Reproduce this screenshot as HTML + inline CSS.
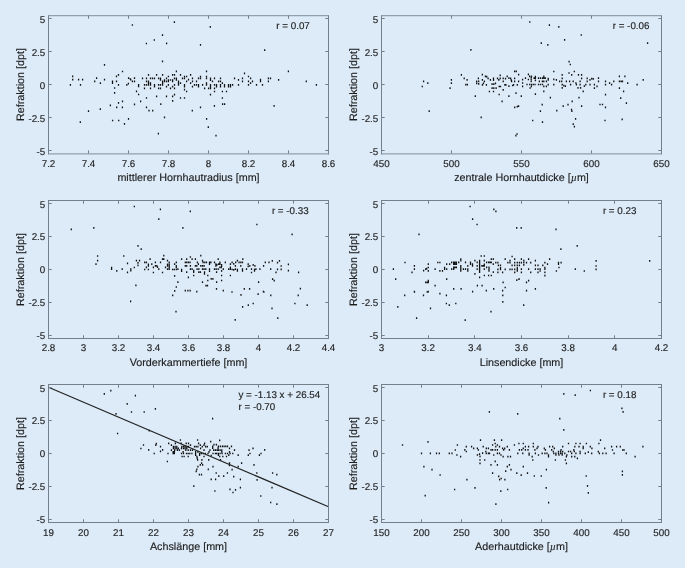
<!DOCTYPE html>
<html><head><meta charset="utf-8"><style>
html,body{margin:0;padding:0;background:#ddebf8;}
svg{display:block;}
text{font-family:"Liberation Sans",sans-serif;fill:#1e1e1e;}
svg{will-change:transform;}
text{text-rendering:geometricPrecision;stroke:#1e1e1e;stroke-width:0.15px;}
</style></head><body>
<svg width="685" height="568" viewBox="0 0 685 568">
<rect x="0" y="0" width="685" height="568" fill="#ddebf8"/>
<g><path d="M131.75 24.15h1.3v1.7h-1.3zM173.75 21.25h1.3v1.7h-1.3zM209.65 26.05h1.3v1.7h-1.3zM161.85 34.25h1.3v1.7h-1.3zM153.65 39.15h1.3v1.7h-1.3zM145.75 42.65h1.3v1.7h-1.3zM165.95 42.55h1.3v1.7h-1.3zM199.85 43.95h1.3v1.7h-1.3zM264.05 49.35h1.3v1.7h-1.3zM161.85 60.55h1.3v1.7h-1.3zM103.85 63.95h1.3v1.7h-1.3zM72.05 75.45h1.3v1.7h-1.3zM72.05 78.85h1.3v1.7h-1.3zM69.75 83.95h1.3v1.7h-1.3zM77.95 78.85h1.3v1.7h-1.3zM81.95 78.85h1.3v1.7h-1.3zM79.85 83.95h1.3v1.7h-1.3zM94.05 80.55h1.3v1.7h-1.3zM95.95 77.25h1.3v1.7h-1.3zM99.75 82.35h1.3v1.7h-1.3zM103.85 78.85h1.3v1.7h-1.3zM111.85 80.55h1.3v1.7h-1.3zM111.85 82.35h1.3v1.7h-1.3zM115.85 80.55h1.3v1.7h-1.3zM115.85 75.45h1.3v1.7h-1.3zM117.85 73.95h1.3v1.7h-1.3zM121.85 70.65h1.3v1.7h-1.3zM117.85 83.95h1.3v1.7h-1.3zM113.95 87.15h1.3v1.7h-1.3zM113.95 91.95h1.3v1.7h-1.3zM126.15 83.95h1.3v1.7h-1.3zM127.75 82.75h1.3v1.7h-1.3zM127.95 77.25h1.3v1.7h-1.3zM129.65 78.15h1.3v1.7h-1.3zM130.05 78.85h1.3v1.7h-1.3zM131.75 80.55h1.3v1.7h-1.3zM133.85 77.25h1.3v1.7h-1.3zM133.85 80.55h1.3v1.7h-1.3zM137.95 83.95h1.3v1.7h-1.3zM137.95 85.45h1.3v1.7h-1.3zM135.85 90.55h1.3v1.7h-1.3zM137.95 93.65h1.3v1.7h-1.3zM121.85 100.45h1.3v1.7h-1.3zM117.85 101.95h1.3v1.7h-1.3zM133.85 103.55h1.3v1.7h-1.3zM139.95 100.45h1.3v1.7h-1.3zM109.75 104.55h1.3v1.7h-1.3zM175.75 70.55h1.3v1.7h-1.3zM147.85 73.95h1.3v1.7h-1.3zM155.95 73.95h1.3v1.7h-1.3zM161.95 73.95h1.3v1.7h-1.3zM171.95 73.95h1.3v1.7h-1.3zM173.85 73.95h1.3v1.7h-1.3zM179.85 73.95h1.3v1.7h-1.3zM167.75 75.65h1.3v1.7h-1.3zM183.85 75.65h1.3v1.7h-1.3zM185.95 75.65h1.3v1.7h-1.3zM141.85 77.55h1.3v1.7h-1.3zM145.85 77.55h1.3v1.7h-1.3zM149.85 77.55h1.3v1.7h-1.3zM151.85 77.55h1.3v1.7h-1.3zM153.85 77.55h1.3v1.7h-1.3zM157.95 77.55h1.3v1.7h-1.3zM159.85 77.55h1.3v1.7h-1.3zM165.85 77.55h1.3v1.7h-1.3zM173.85 77.55h1.3v1.7h-1.3zM175.75 77.55h1.3v1.7h-1.3zM181.85 77.55h1.3v1.7h-1.3zM183.85 77.55h1.3v1.7h-1.3zM159.85 79.15h1.3v1.7h-1.3zM163.85 79.15h1.3v1.7h-1.3zM167.75 79.15h1.3v1.7h-1.3zM169.85 79.15h1.3v1.7h-1.3zM171.95 79.15h1.3v1.7h-1.3zM175.75 79.15h1.3v1.7h-1.3zM145.85 80.45h1.3v1.7h-1.3zM147.85 80.45h1.3v1.7h-1.3zM161.95 80.45h1.3v1.7h-1.3zM163.85 80.45h1.3v1.7h-1.3zM165.85 80.45h1.3v1.7h-1.3zM167.75 80.45h1.3v1.7h-1.3zM171.95 80.45h1.3v1.7h-1.3zM177.85 80.45h1.3v1.7h-1.3zM185.95 80.45h1.3v1.7h-1.3zM147.85 82.25h1.3v1.7h-1.3zM149.85 82.25h1.3v1.7h-1.3zM161.95 82.25h1.3v1.7h-1.3zM177.85 82.25h1.3v1.7h-1.3zM179.85 82.25h1.3v1.7h-1.3zM143.85 83.95h1.3v1.7h-1.3zM145.85 83.95h1.3v1.7h-1.3zM147.85 83.95h1.3v1.7h-1.3zM149.85 83.95h1.3v1.7h-1.3zM153.85 83.95h1.3v1.7h-1.3zM157.95 83.95h1.3v1.7h-1.3zM159.85 83.95h1.3v1.7h-1.3zM161.95 83.95h1.3v1.7h-1.3zM167.75 83.95h1.3v1.7h-1.3zM173.85 83.95h1.3v1.7h-1.3zM177.85 83.95h1.3v1.7h-1.3zM183.85 83.95h1.3v1.7h-1.3zM153.85 85.75h1.3v1.7h-1.3zM165.85 85.75h1.3v1.7h-1.3zM171.95 85.75h1.3v1.7h-1.3zM183.85 85.75h1.3v1.7h-1.3zM143.85 87.45h1.3v1.7h-1.3zM149.85 87.45h1.3v1.7h-1.3zM157.95 87.45h1.3v1.7h-1.3zM159.85 87.45h1.3v1.7h-1.3zM169.85 87.45h1.3v1.7h-1.3zM173.85 87.45h1.3v1.7h-1.3zM183.85 88.85h1.3v1.7h-1.3zM185.95 90.65h1.3v1.7h-1.3zM173.85 93.75h1.3v1.7h-1.3zM155.95 95.55h1.3v1.7h-1.3zM165.85 95.55h1.3v1.7h-1.3zM171.95 95.55h1.3v1.7h-1.3zM145.85 97.15h1.3v1.7h-1.3zM179.85 97.15h1.3v1.7h-1.3zM183.85 97.15h1.3v1.7h-1.3zM205.85 70.55h1.3v1.7h-1.3zM189.95 73.95h1.3v1.7h-1.3zM199.85 75.65h1.3v1.7h-1.3zM199.85 77.55h1.3v1.7h-1.3zM197.85 77.55h1.3v1.7h-1.3zM205.85 75.65h1.3v1.7h-1.3zM205.85 77.55h1.3v1.7h-1.3zM191.85 77.55h1.3v1.7h-1.3zM213.85 77.55h1.3v1.7h-1.3zM219.85 77.55h1.3v1.7h-1.3zM209.85 77.55h1.3v1.7h-1.3zM209.85 79.25h1.3v1.7h-1.3zM187.85 78.75h1.3v1.7h-1.3zM191.85 80.45h1.3v1.7h-1.3zM195.85 80.45h1.3v1.7h-1.3zM211.85 80.45h1.3v1.7h-1.3zM217.95 80.45h1.3v1.7h-1.3zM219.85 80.45h1.3v1.7h-1.3zM189.95 82.25h1.3v1.7h-1.3zM205.85 82.25h1.3v1.7h-1.3zM221.75 82.25h1.3v1.7h-1.3zM193.85 83.95h1.3v1.7h-1.3zM195.85 83.95h1.3v1.7h-1.3zM197.85 83.95h1.3v1.7h-1.3zM201.95 83.95h1.3v1.7h-1.3zM205.85 83.95h1.3v1.7h-1.3zM209.85 83.95h1.3v1.7h-1.3zM213.85 83.95h1.3v1.7h-1.3zM215.85 83.95h1.3v1.7h-1.3zM219.85 83.95h1.3v1.7h-1.3zM223.85 83.95h1.3v1.7h-1.3zM227.85 83.95h1.3v1.7h-1.3zM229.85 83.95h1.3v1.7h-1.3zM231.95 83.95h1.3v1.7h-1.3zM191.85 85.75h1.3v1.7h-1.3zM197.85 85.75h1.3v1.7h-1.3zM209.85 85.75h1.3v1.7h-1.3zM215.85 85.75h1.3v1.7h-1.3zM219.85 85.75h1.3v1.7h-1.3zM223.85 85.75h1.3v1.7h-1.3zM227.85 85.75h1.3v1.7h-1.3zM229.85 85.75h1.3v1.7h-1.3zM203.95 87.45h1.3v1.7h-1.3zM207.95 87.45h1.3v1.7h-1.3zM209.85 87.45h1.3v1.7h-1.3zM213.85 87.45h1.3v1.7h-1.3zM185.95 90.65h1.3v1.7h-1.3zM213.85 90.65h1.3v1.7h-1.3zM221.75 90.65h1.3v1.7h-1.3zM225.85 90.65h1.3v1.7h-1.3zM209.85 93.75h1.3v1.7h-1.3zM221.75 97.15h1.3v1.7h-1.3zM243.85 72.45h1.3v1.7h-1.3zM233.85 77.55h1.3v1.7h-1.3zM241.85 77.55h1.3v1.7h-1.3zM247.85 75.65h1.3v1.7h-1.3zM249.95 77.55h1.3v1.7h-1.3zM237.85 79.05h1.3v1.7h-1.3zM259.85 78.75h1.3v1.7h-1.3zM259.85 80.45h1.3v1.7h-1.3zM241.85 80.45h1.3v1.7h-1.3zM247.85 80.45h1.3v1.7h-1.3zM251.85 80.45h1.3v1.7h-1.3zM267.75 77.55h1.3v1.7h-1.3zM269.85 77.55h1.3v1.7h-1.3zM267.75 80.45h1.3v1.7h-1.3zM277.95 79.05h1.3v1.7h-1.3zM249.95 82.25h1.3v1.7h-1.3zM231.95 83.95h1.3v1.7h-1.3zM237.85 83.95h1.3v1.7h-1.3zM247.85 83.95h1.3v1.7h-1.3zM255.85 83.95h1.3v1.7h-1.3zM261.85 83.95h1.3v1.7h-1.3zM287.75 70.55h1.3v1.7h-1.3zM305.65 80.55h1.3v1.7h-1.3zM315.75 83.95h1.3v1.7h-1.3zM87.85 110.25h1.3v1.7h-1.3zM99.65 108.25h1.3v1.7h-1.3zM116.05 106.55h1.3v1.7h-1.3zM121.75 106.55h1.3v1.7h-1.3zM145.85 106.55h1.3v1.7h-1.3zM148.35 109.85h1.3v1.7h-1.3zM152.05 109.85h1.3v1.7h-1.3zM160.15 103.35h1.3v1.7h-1.3zM163.85 116.45h1.3v1.7h-1.3zM172.05 100.05h1.3v1.7h-1.3zM79.65 121.35h1.3v1.7h-1.3zM111.95 119.65h1.3v1.7h-1.3zM118.05 119.65h1.3v1.7h-1.3zM123.85 122.95h1.3v1.7h-1.3zM127.85 118.05h1.3v1.7h-1.3zM157.75 132.75h1.3v1.7h-1.3zM191.65 109.85h1.3v1.7h-1.3zM199.85 106.55h1.3v1.7h-1.3zM205.95 118.05h1.3v1.7h-1.3zM207.65 126.25h1.3v1.7h-1.3zM213.75 104.95h1.3v1.7h-1.3zM215.35 134.85h1.3v1.7h-1.3zM221.95 103.35h1.3v1.7h-1.3zM223.95 103.35h1.3v1.7h-1.3zM273.45 104.95h1.3v1.7h-1.3z" fill="#111"/><path d="M48.5 15.1V154.4M328.5 15.1V154.4" stroke="#73808c" stroke-width="1" fill="none"/><path d="M48.0 15.6H329.0M48.0 153.9H329.0" stroke="#92a0ac" stroke-width="1.25" fill="none"/><path d="M48.5 153.5v-3.2M48.5 15.5v3.2M88.5 153.5v-3.2M88.5 15.5v3.2M128.5 153.5v-3.2M128.5 15.5v3.2M168.5 153.5v-3.2M168.5 15.5v3.2M208.5 153.5v-3.2M208.5 15.5v3.2M248.5 153.5v-3.2M248.5 15.5v3.2M288.5 153.5v-3.2M288.5 15.5v3.2M328.5 153.5v-3.2M328.5 15.5v3.2M48.5 18.5h3.2M328.5 18.5h-3.2M48.5 51.5h3.2M328.5 51.5h-3.2M48.5 84.5h3.2M328.5 84.5h-3.2M48.5 117.5h3.2M328.5 117.5h-3.2M48.5 150.5h3.2M328.5 150.5h-3.2" stroke="#73808c" stroke-width="1" fill="none"/><text x="48.50" y="167.20" text-anchor="middle" font-size="9.8">7.2</text><text x="88.50" y="167.20" text-anchor="middle" font-size="9.8">7.4</text><text x="128.50" y="167.20" text-anchor="middle" font-size="9.8">7.6</text><text x="168.50" y="167.20" text-anchor="middle" font-size="9.8">7.8</text><text x="208.50" y="167.20" text-anchor="middle" font-size="9.8">8</text><text x="248.50" y="167.20" text-anchor="middle" font-size="9.8">8.2</text><text x="288.50" y="167.20" text-anchor="middle" font-size="9.8">8.4</text><text x="328.50" y="167.20" text-anchor="middle" font-size="9.8">8.6</text><text x="45.30" y="23.09" text-anchor="end" font-size="9.8">5</text><text x="45.30" y="55.94" text-anchor="end" font-size="9.8">2.5</text><text x="45.30" y="88.80" text-anchor="end" font-size="9.8">0</text><text x="45.30" y="121.66" text-anchor="end" font-size="9.8">-2.5</text><text x="45.30" y="154.51" text-anchor="end" font-size="9.8">-5</text><text x="188.50" y="181.30" text-anchor="middle" font-size="10.75">mittlerer Hornhautradius [mm]</text><text transform="translate(23.60,84.50) rotate(-90)" text-anchor="middle" font-size="10.75">Refraktion [dpt]</text><text x="276.30" y="29.20" font-size="9.8">r = 0.07</text></g>
<g><path d="M529.15 21.15h1.3v1.7h-1.3zM548.75 24.35h1.3v1.7h-1.3zM558.15 26.05h1.3v1.7h-1.3zM580.65 34.15h1.3v1.7h-1.3zM563.95 39.05h1.3v1.7h-1.3zM540.65 42.35h1.3v1.7h-1.3zM547.15 43.95h1.3v1.7h-1.3zM646.95 42.35h1.3v1.7h-1.3zM470.25 48.95h1.3v1.7h-1.3zM568.45 60.75h1.3v1.7h-1.3zM569.65 63.65h1.3v1.7h-1.3zM422.95 80.55h1.3v1.7h-1.3zM427.15 82.35h1.3v1.7h-1.3zM421.65 85.65h1.3v1.7h-1.3zM450.75 79.05h1.3v1.7h-1.3zM450.75 82.35h1.3v1.7h-1.3zM449.45 87.25h1.3v1.7h-1.3zM460.75 73.95h1.3v1.7h-1.3zM463.55 77.45h1.3v1.7h-1.3zM466.45 79.05h1.3v1.7h-1.3zM465.15 83.75h1.3v1.7h-1.3zM466.75 83.75h1.3v1.7h-1.3zM474.65 95.35h1.3v1.7h-1.3zM501.45 100.55h1.3v1.7h-1.3zM516.65 105.85h1.3v1.7h-1.3zM527.75 73.55h1.3v1.7h-1.3zM524.85 77.25h1.3v1.7h-1.3zM521.95 78.85h1.3v1.7h-1.3zM527.75 78.65h1.3v1.7h-1.3zM528.95 75.55h1.3v1.7h-1.3zM530.85 75.55h1.3v1.7h-1.3zM530.55 76.85h1.3v1.7h-1.3zM530.55 78.65h1.3v1.7h-1.3zM530.55 80.55h1.3v1.7h-1.3zM534.75 75.75h1.3v1.7h-1.3zM534.75 77.25h1.3v1.7h-1.3zM534.75 79.45h1.3v1.7h-1.3zM533.45 77.25h1.3v1.7h-1.3zM537.85 77.25h1.3v1.7h-1.3zM539.85 77.25h1.3v1.7h-1.3zM541.85 77.25h1.3v1.7h-1.3zM543.25 77.25h1.3v1.7h-1.3zM543.15 75.55h1.3v1.7h-1.3zM544.65 77.25h1.3v1.7h-1.3zM547.55 77.75h1.3v1.7h-1.3zM547.55 79.05h1.3v1.7h-1.3zM538.75 80.55h1.3v1.7h-1.3zM541.75 80.55h1.3v1.7h-1.3zM543.15 80.55h1.3v1.7h-1.3zM545.75 80.55h1.3v1.7h-1.3zM521.95 82.15h1.3v1.7h-1.3zM521.95 85.45h1.3v1.7h-1.3zM526.35 83.65h1.3v1.7h-1.3zM529.05 83.65h1.3v1.7h-1.3zM530.85 83.65h1.3v1.7h-1.3zM532.65 83.65h1.3v1.7h-1.3zM534.35 83.65h1.3v1.7h-1.3zM530.75 85.45h1.3v1.7h-1.3zM529.45 87.15h1.3v1.7h-1.3zM537.85 83.65h1.3v1.7h-1.3zM539.85 83.65h1.3v1.7h-1.3zM541.85 83.65h1.3v1.7h-1.3zM543.15 85.45h1.3v1.7h-1.3zM545.75 85.45h1.3v1.7h-1.3zM547.55 83.85h1.3v1.7h-1.3zM543.15 90.45h1.3v1.7h-1.3zM534.75 93.35h1.3v1.7h-1.3zM549.75 96.85h1.3v1.7h-1.3zM553.15 70.65h1.3v1.7h-1.3zM553.15 78.45h1.3v1.7h-1.3zM555.75 79.05h1.3v1.7h-1.3zM553.15 83.75h1.3v1.7h-1.3zM558.95 80.55h1.3v1.7h-1.3zM561.05 80.55h1.3v1.7h-1.3zM561.55 73.95h1.3v1.7h-1.3zM561.55 77.45h1.3v1.7h-1.3zM561.55 83.75h1.3v1.7h-1.3zM563.15 84.75h1.3v1.7h-1.3zM561.55 86.95h1.3v1.7h-1.3zM564.75 85.35h1.3v1.7h-1.3zM565.75 80.55h1.3v1.7h-1.3zM568.95 80.55h1.3v1.7h-1.3zM572.55 80.55h1.3v1.7h-1.3zM568.35 72.15h1.3v1.7h-1.3zM571.05 73.95h1.3v1.7h-1.3zM573.65 70.65h1.3v1.7h-1.3zM569.95 83.75h1.3v1.7h-1.3zM575.25 82.15h1.3v1.7h-1.3zM575.75 83.75h1.3v1.7h-1.3zM577.85 73.95h1.3v1.7h-1.3zM580.95 73.95h1.3v1.7h-1.3zM579.45 80.55h1.3v1.7h-1.3zM580.95 77.45h1.3v1.7h-1.3zM579.45 83.75h1.3v1.7h-1.3zM577.35 86.95h1.3v1.7h-1.3zM579.95 86.95h1.3v1.7h-1.3zM583.65 85.35h1.3v1.7h-1.3zM585.15 83.75h1.3v1.7h-1.3zM586.55 77.45h1.3v1.7h-1.3zM582.55 90.55h1.3v1.7h-1.3zM578.35 96.85h1.3v1.7h-1.3zM571.55 100.55h1.3v1.7h-1.3zM567.35 103.75h1.3v1.7h-1.3zM562.55 105.25h1.3v1.7h-1.3zM541.55 103.75h1.3v1.7h-1.3zM517.95 105.25h1.3v1.7h-1.3zM580.95 105.25h1.3v1.7h-1.3zM586.55 80.55h1.3v1.7h-1.3zM589.35 78.95h1.3v1.7h-1.3zM591.05 77.75h1.3v1.7h-1.3zM592.65 78.05h1.3v1.7h-1.3zM589.35 83.85h1.3v1.7h-1.3zM593.75 83.85h1.3v1.7h-1.3zM593.75 87.25h1.3v1.7h-1.3zM596.35 85.55h1.3v1.7h-1.3zM597.85 77.25h1.3v1.7h-1.3zM597.85 80.55h1.3v1.7h-1.3zM604.85 80.55h1.3v1.7h-1.3zM604.85 83.85h1.3v1.7h-1.3zM604.85 93.85h1.3v1.7h-1.3zM608.95 82.25h1.3v1.7h-1.3zM610.95 83.85h1.3v1.7h-1.3zM613.15 80.55h1.3v1.7h-1.3zM618.75 75.55h1.3v1.7h-1.3zM624.25 75.55h1.3v1.7h-1.3zM618.75 80.55h1.3v1.7h-1.3zM620.45 80.55h1.3v1.7h-1.3zM621.85 80.55h1.3v1.7h-1.3zM627.05 82.25h1.3v1.7h-1.3zM618.75 87.25h1.3v1.7h-1.3zM622.95 90.55h1.3v1.7h-1.3zM620.05 97.25h1.3v1.7h-1.3zM625.75 102.25h1.3v1.7h-1.3zM636.45 83.85h1.3v1.7h-1.3zM642.55 78.95h1.3v1.7h-1.3zM599.35 103.65h1.3v1.7h-1.3zM601.85 103.65h1.3v1.7h-1.3zM604.85 106.45h1.3v1.7h-1.3zM428.55 110.25h1.3v1.7h-1.3zM480.55 116.45h1.3v1.7h-1.3zM514.05 106.55h1.3v1.7h-1.3zM515.25 134.85h1.3v1.7h-1.3zM516.45 133.15h1.3v1.7h-1.3zM532.05 119.65h1.3v1.7h-1.3zM539.75 110.25h1.3v1.7h-1.3zM541.85 121.35h1.3v1.7h-1.3zM556.15 109.85h1.3v1.7h-1.3zM570.85 108.65h1.3v1.7h-1.3zM571.25 110.25h1.3v1.7h-1.3zM574.95 118.05h1.3v1.7h-1.3zM572.55 123.35h1.3v1.7h-1.3zM573.75 125.85h1.3v1.7h-1.3zM604.35 119.65h1.3v1.7h-1.3zM621.55 118.45h1.3v1.7h-1.3zM481.75 73.85h1.3v1.7h-1.3zM484.75 75.55h1.3v1.7h-1.3zM486.05 75.75h1.3v1.7h-1.3zM487.45 77.55h1.3v1.7h-1.3zM477.75 77.55h1.3v1.7h-1.3zM481.75 78.95h1.3v1.7h-1.3zM489.75 78.95h1.3v1.7h-1.3zM492.85 77.55h1.3v1.7h-1.3zM492.85 79.25h1.3v1.7h-1.3zM476.05 80.55h1.3v1.7h-1.3zM478.05 80.55h1.3v1.7h-1.3zM476.05 82.55h1.3v1.7h-1.3zM478.05 82.95h1.3v1.7h-1.3zM483.75 80.55h1.3v1.7h-1.3zM482.75 82.55h1.3v1.7h-1.3zM481.75 83.95h1.3v1.7h-1.3zM485.75 83.95h1.3v1.7h-1.3zM491.45 83.25h1.3v1.7h-1.3zM493.15 83.25h1.3v1.7h-1.3zM494.85 82.55h1.3v1.7h-1.3zM491.45 87.25h1.3v1.7h-1.3zM493.15 87.25h1.3v1.7h-1.3zM495.45 87.25h1.3v1.7h-1.3zM488.75 90.65h1.3v1.7h-1.3zM492.85 90.65h1.3v1.7h-1.3zM496.85 77.55h1.3v1.7h-1.3zM498.15 78.95h1.3v1.7h-1.3zM499.55 74.55h1.3v1.7h-1.3zM499.55 77.55h1.3v1.7h-1.3zM498.55 85.65h1.3v1.7h-1.3zM499.85 85.65h1.3v1.7h-1.3zM498.55 93.65h1.3v1.7h-1.3zM502.55 77.55h1.3v1.7h-1.3zM502.55 80.55h1.3v1.7h-1.3zM502.55 88.95h1.3v1.7h-1.3zM504.85 77.85h1.3v1.7h-1.3zM506.55 75.55h1.3v1.7h-1.3zM508.25 77.25h1.3v1.7h-1.3zM509.95 77.55h1.3v1.7h-1.3zM510.65 79.25h1.3v1.7h-1.3zM504.25 83.95h1.3v1.7h-1.3zM505.25 83.95h1.3v1.7h-1.3zM508.25 85.25h1.3v1.7h-1.3zM511.95 84.65h1.3v1.7h-1.3zM512.95 83.95h1.3v1.7h-1.3zM513.95 77.55h1.3v1.7h-1.3zM513.95 80.55h1.3v1.7h-1.3zM510.95 80.55h1.3v1.7h-1.3zM513.95 70.55h1.3v1.7h-1.3zM515.65 70.55h1.3v1.7h-1.3zM517.95 73.85h1.3v1.7h-1.3zM517.95 80.55h1.3v1.7h-1.3zM516.65 83.95h1.3v1.7h-1.3zM515.35 92.35h1.3v1.7h-1.3zM508.25 95.35h1.3v1.7h-1.3zM520.65 95.35h1.3v1.7h-1.3z" fill="#111"/><path d="M381.5 15.1V154.4M661.5 15.1V154.4" stroke="#73808c" stroke-width="1" fill="none"/><path d="M381.0 15.6H662.0M381.0 153.9H662.0" stroke="#92a0ac" stroke-width="1.25" fill="none"/><path d="M381.5 153.5v-3.2M381.5 15.5v3.2M451.5 153.5v-3.2M451.5 15.5v3.2M521.5 153.5v-3.2M521.5 15.5v3.2M591.5 153.5v-3.2M591.5 15.5v3.2M661.5 153.5v-3.2M661.5 15.5v3.2M381.5 18.5h3.2M661.5 18.5h-3.2M381.5 51.5h3.2M661.5 51.5h-3.2M381.5 84.5h3.2M661.5 84.5h-3.2M381.5 117.5h3.2M661.5 117.5h-3.2M381.5 150.5h3.2M661.5 150.5h-3.2" stroke="#73808c" stroke-width="1" fill="none"/><text x="381.50" y="167.20" text-anchor="middle" font-size="9.8">450</text><text x="451.50" y="167.20" text-anchor="middle" font-size="9.8">500</text><text x="521.50" y="167.20" text-anchor="middle" font-size="9.8">550</text><text x="591.50" y="167.20" text-anchor="middle" font-size="9.8">600</text><text x="661.50" y="167.20" text-anchor="middle" font-size="9.8">650</text><text x="378.30" y="23.09" text-anchor="end" font-size="9.8">5</text><text x="378.30" y="55.94" text-anchor="end" font-size="9.8">2.5</text><text x="378.30" y="88.80" text-anchor="end" font-size="9.8">0</text><text x="378.30" y="121.66" text-anchor="end" font-size="9.8">-2.5</text><text x="378.30" y="154.51" text-anchor="end" font-size="9.8">-5</text><text x="521.50" y="181.30" text-anchor="middle" font-size="10.75">zentrale Hornhautdicke [<tspan font-style="italic" font-family="Liberation Serif" stroke-width="0.1">µ</tspan>m]</text><text transform="translate(356.60,84.50) rotate(-90)" text-anchor="middle" font-size="10.75">Refraktion [dpt]</text><text x="612.70" y="29.20" font-size="9.8">r = -0.06</text></g>
<g><path d="M133.65 205.65h1.3v1.7h-1.3zM159.75 208.55h1.3v1.7h-1.3zM189.65 210.55h1.3v1.7h-1.3zM158.15 218.35h1.3v1.7h-1.3zM70.65 228.55h1.3v1.7h-1.3zM93.15 226.95h1.3v1.7h-1.3zM182.25 226.95h1.3v1.7h-1.3zM256.25 223.65h1.3v1.7h-1.3zM291.45 233.45h1.3v1.7h-1.3zM137.35 244.95h1.3v1.7h-1.3zM140.55 248.25h1.3v1.7h-1.3zM96.95 255.15h1.3v1.7h-1.3zM96.95 259.85h1.3v1.7h-1.3zM95.35 263.35h1.3v1.7h-1.3zM110.95 266.65h1.3v1.7h-1.3zM110.95 268.25h1.3v1.7h-1.3zM116.15 270.05h1.3v1.7h-1.3zM123.15 255.15h1.3v1.7h-1.3zM126.85 262.45h1.3v1.7h-1.3zM121.55 268.25h1.3v1.7h-1.3zM126.85 271.45h1.3v1.7h-1.3zM130.15 268.25h1.3v1.7h-1.3zM130.15 269.85h1.3v1.7h-1.3zM133.65 266.65h1.3v1.7h-1.3zM135.75 259.85h1.3v1.7h-1.3zM138.85 259.85h1.3v1.7h-1.3zM137.35 261.95h1.3v1.7h-1.3zM137.35 264.55h1.3v1.7h-1.3zM135.25 284.55h1.3v1.7h-1.3zM175.65 286.15h1.3v1.7h-1.3zM184.65 289.85h1.3v1.7h-1.3zM187.25 289.85h1.3v1.7h-1.3zM205.35 284.85h1.3v1.7h-1.3zM206.85 284.85h1.3v1.7h-1.3zM215.85 288.05h1.3v1.7h-1.3zM243.65 288.05h1.3v1.7h-1.3zM248.95 288.05h1.3v1.7h-1.3zM189.55 289.85h1.3v1.7h-1.3zM222.65 289.85h1.3v1.7h-1.3zM271.65 259.95h1.3v1.7h-1.3zM276.85 261.75h1.3v1.7h-1.3zM278.85 259.95h1.3v1.7h-1.3zM280.55 265.15h1.3v1.7h-1.3zM280.55 268.45h1.3v1.7h-1.3zM276.85 268.45h1.3v1.7h-1.3zM275.35 271.55h1.3v1.7h-1.3zM287.75 263.45h1.3v1.7h-1.3zM287.75 269.75h1.3v1.7h-1.3zM297.95 271.55h1.3v1.7h-1.3zM271.95 278.25h1.3v1.7h-1.3zM273.55 279.75h1.3v1.7h-1.3zM299.75 287.85h1.3v1.7h-1.3zM262.75 290.65h1.3v1.7h-1.3zM129.95 300.55h1.3v1.7h-1.3zM172.05 294.45h1.3v1.7h-1.3zM174.05 289.95h1.3v1.7h-1.3zM175.35 310.85h1.3v1.7h-1.3zM196.15 290.75h1.3v1.7h-1.3zM231.35 291.15h1.3v1.7h-1.3zM240.35 294.05h1.3v1.7h-1.3zM257.45 293.25h1.3v1.7h-1.3zM263.25 291.15h1.3v1.7h-1.3zM270.15 294.45h1.3v1.7h-1.3zM241.95 305.95h1.3v1.7h-1.3zM247.65 304.25h1.3v1.7h-1.3zM252.55 302.65h1.3v1.7h-1.3zM271.35 307.55h1.3v1.7h-1.3zM234.55 318.95h1.3v1.7h-1.3zM277.15 317.35h1.3v1.7h-1.3zM294.25 302.65h1.3v1.7h-1.3zM297.55 294.45h1.3v1.7h-1.3zM306.55 304.25h1.3v1.7h-1.3zM200.15 254.85h1.3v1.7h-1.3zM189.75 256.15h1.3v1.7h-1.3zM191.45 258.25h1.3v1.7h-1.3zM186.05 258.25h1.3v1.7h-1.3zM194.75 258.25h1.3v1.7h-1.3zM217.55 258.25h1.3v1.7h-1.3zM201.85 259.85h1.3v1.7h-1.3zM184.65 261.55h1.3v1.7h-1.3zM186.05 261.55h1.3v1.7h-1.3zM187.75 261.55h1.3v1.7h-1.3zM189.35 261.55h1.3v1.7h-1.3zM196.75 261.55h1.3v1.7h-1.3zM202.45 261.55h1.3v1.7h-1.3zM204.15 261.55h1.3v1.7h-1.3zM205.85 261.55h1.3v1.7h-1.3zM208.85 261.55h1.3v1.7h-1.3zM210.25 261.55h1.3v1.7h-1.3zM213.85 261.55h1.3v1.7h-1.3zM219.25 261.55h1.3v1.7h-1.3zM224.65 261.55h1.3v1.7h-1.3zM208.85 263.25h1.3v1.7h-1.3zM215.25 263.25h1.3v1.7h-1.3zM216.25 263.95h1.3v1.7h-1.3zM217.95 263.25h1.3v1.7h-1.3zM219.25 263.25h1.3v1.7h-1.3zM220.95 263.95h1.3v1.7h-1.3zM197.75 263.25h1.3v1.7h-1.3zM184.65 264.95h1.3v1.7h-1.3zM186.05 264.95h1.3v1.7h-1.3zM189.75 264.95h1.3v1.7h-1.3zM194.75 264.95h1.3v1.7h-1.3zM196.15 264.95h1.3v1.7h-1.3zM200.15 264.95h1.3v1.7h-1.3zM201.85 264.95h1.3v1.7h-1.3zM203.45 264.95h1.3v1.7h-1.3zM215.25 264.95h1.3v1.7h-1.3zM220.95 264.95h1.3v1.7h-1.3zM220.65 266.55h1.3v1.7h-1.3zM219.25 266.55h1.3v1.7h-1.3zM189.75 268.25h1.3v1.7h-1.3zM191.45 268.25h1.3v1.7h-1.3zM196.45 268.25h1.3v1.7h-1.3zM198.15 268.25h1.3v1.7h-1.3zM201.85 268.25h1.3v1.7h-1.3zM203.45 268.25h1.3v1.7h-1.3zM205.15 268.25h1.3v1.7h-1.3zM208.85 268.25h1.3v1.7h-1.3zM213.85 268.25h1.3v1.7h-1.3zM215.55 268.25h1.3v1.7h-1.3zM217.55 268.25h1.3v1.7h-1.3zM222.65 268.25h1.3v1.7h-1.3zM228.05 268.25h1.3v1.7h-1.3zM193.05 269.65h1.3v1.7h-1.3zM208.85 270.25h1.3v1.7h-1.3zM220.95 269.95h1.3v1.7h-1.3zM186.05 271.25h1.3v1.7h-1.3zM193.05 271.25h1.3v1.7h-1.3zM198.15 271.25h1.3v1.7h-1.3zM199.75 271.25h1.3v1.7h-1.3zM203.85 271.25h1.3v1.7h-1.3zM215.95 271.25h1.3v1.7h-1.3zM203.85 272.95h1.3v1.7h-1.3zM193.05 274.65h1.3v1.7h-1.3zM207.15 274.65h1.3v1.7h-1.3zM220.95 274.65h1.3v1.7h-1.3zM187.75 276.55h1.3v1.7h-1.3zM210.55 278.05h1.3v1.7h-1.3zM212.25 278.05h1.3v1.7h-1.3zM207.15 279.65h1.3v1.7h-1.3zM220.95 279.65h1.3v1.7h-1.3zM201.85 281.35h1.3v1.7h-1.3zM215.95 281.35h1.3v1.7h-1.3zM242.15 258.25h1.3v1.7h-1.3zM229.75 263.25h1.3v1.7h-1.3zM231.45 261.55h1.3v1.7h-1.3zM233.05 262.95h1.3v1.7h-1.3zM235.05 261.55h1.3v1.7h-1.3zM236.75 259.85h1.3v1.7h-1.3zM238.45 261.55h1.3v1.7h-1.3zM240.15 261.55h1.3v1.7h-1.3zM241.85 261.55h1.3v1.7h-1.3zM234.75 264.95h1.3v1.7h-1.3zM240.15 264.95h1.3v1.7h-1.3zM229.75 266.55h1.3v1.7h-1.3zM229.75 268.25h1.3v1.7h-1.3zM231.45 268.65h1.3v1.7h-1.3zM233.05 268.95h1.3v1.7h-1.3zM234.75 268.25h1.3v1.7h-1.3zM236.75 268.65h1.3v1.7h-1.3zM236.75 269.95h1.3v1.7h-1.3zM241.85 268.25h1.3v1.7h-1.3zM241.85 269.95h1.3v1.7h-1.3zM245.85 268.25h1.3v1.7h-1.3zM247.55 263.25h1.3v1.7h-1.3zM247.55 265.55h1.3v1.7h-1.3zM249.15 264.95h1.3v1.7h-1.3zM250.85 268.25h1.3v1.7h-1.3zM250.85 271.65h1.3v1.7h-1.3zM252.55 263.95h1.3v1.7h-1.3zM254.25 264.95h1.3v1.7h-1.3zM253.85 268.65h1.3v1.7h-1.3zM255.25 268.25h1.3v1.7h-1.3zM253.85 269.95h1.3v1.7h-1.3zM259.25 268.25h1.3v1.7h-1.3zM262.95 264.95h1.3v1.7h-1.3zM264.65 261.55h1.3v1.7h-1.3zM268.35 261.55h1.3v1.7h-1.3zM270.05 268.25h1.3v1.7h-1.3zM229.75 274.65h1.3v1.7h-1.3zM257.95 281.35h1.3v1.7h-1.3zM163.15 254.85h1.3v1.7h-1.3zM149.45 258.25h1.3v1.7h-1.3zM161.85 258.25h1.3v1.7h-1.3zM163.15 258.25h1.3v1.7h-1.3zM166.85 259.85h1.3v1.7h-1.3zM180.95 258.25h1.3v1.7h-1.3zM144.05 261.55h1.3v1.7h-1.3zM145.75 261.55h1.3v1.7h-1.3zM154.75 261.55h1.3v1.7h-1.3zM159.85 261.55h1.3v1.7h-1.3zM168.55 261.55h1.3v1.7h-1.3zM175.65 261.55h1.3v1.7h-1.3zM147.75 263.55h1.3v1.7h-1.3zM147.75 264.95h1.3v1.7h-1.3zM151.15 263.25h1.3v1.7h-1.3zM166.85 263.55h1.3v1.7h-1.3zM168.55 263.55h1.3v1.7h-1.3zM173.95 263.25h1.3v1.7h-1.3zM154.75 264.95h1.3v1.7h-1.3zM156.15 264.95h1.3v1.7h-1.3zM166.85 264.95h1.3v1.7h-1.3zM168.55 264.95h1.3v1.7h-1.3zM175.65 264.95h1.3v1.7h-1.3zM145.75 266.55h1.3v1.7h-1.3zM152.75 266.55h1.3v1.7h-1.3zM156.85 266.25h1.3v1.7h-1.3zM164.85 266.55h1.3v1.7h-1.3zM168.55 266.55h1.3v1.7h-1.3zM175.65 266.55h1.3v1.7h-1.3zM144.05 268.65h1.3v1.7h-1.3zM147.75 268.65h1.3v1.7h-1.3zM158.15 268.25h1.3v1.7h-1.3zM166.85 268.25h1.3v1.7h-1.3zM168.55 268.25h1.3v1.7h-1.3zM171.95 268.65h1.3v1.7h-1.3zM173.65 268.65h1.3v1.7h-1.3zM175.65 268.65h1.3v1.7h-1.3zM177.25 268.25h1.3v1.7h-1.3zM180.95 268.65h1.3v1.7h-1.3zM180.95 270.25h1.3v1.7h-1.3zM152.75 271.65h1.3v1.7h-1.3zM161.85 271.65h1.3v1.7h-1.3zM173.95 274.95h1.3v1.7h-1.3zM177.25 281.35h1.3v1.7h-1.3z" fill="#111"/><path d="M48.5 200.0V339.0M328.5 200.0V339.0" stroke="#73808c" stroke-width="1" fill="none"/><path d="M48.0 200.5H329.0M48.0 338.5H329.0" stroke="#73808c" stroke-width="1.1" fill="none"/><path d="M48.5 338.5v-3.2M48.5 200.5v3.2M83.5 338.5v-3.2M83.5 200.5v3.2M118.5 338.5v-3.2M118.5 200.5v3.2M153.5 338.5v-3.2M153.5 200.5v3.2M188.5 338.5v-3.2M188.5 200.5v3.2M223.5 338.5v-3.2M223.5 200.5v3.2M258.5 338.5v-3.2M258.5 200.5v3.2M293.5 338.5v-3.2M293.5 200.5v3.2M328.5 338.5v-3.2M328.5 200.5v3.2M48.5 203.5h3.2M328.5 203.5h-3.2M48.5 236.5h3.2M328.5 236.5h-3.2M48.5 269.5h3.2M328.5 269.5h-3.2M48.5 302.5h3.2M328.5 302.5h-3.2M48.5 335.5h3.2M328.5 335.5h-3.2" stroke="#73808c" stroke-width="1" fill="none"/><text x="48.50" y="351.40" text-anchor="middle" font-size="9.8">2.8</text><text x="83.50" y="351.40" text-anchor="middle" font-size="9.8">3</text><text x="118.50" y="351.40" text-anchor="middle" font-size="9.8">3.2</text><text x="153.50" y="351.40" text-anchor="middle" font-size="9.8">3.4</text><text x="188.50" y="351.40" text-anchor="middle" font-size="9.8">3.6</text><text x="223.50" y="351.40" text-anchor="middle" font-size="9.8">3.8</text><text x="258.50" y="351.40" text-anchor="middle" font-size="9.8">4</text><text x="293.50" y="351.40" text-anchor="middle" font-size="9.8">4.2</text><text x="328.50" y="351.40" text-anchor="middle" font-size="9.8">4.4</text><text x="45.30" y="207.59" text-anchor="end" font-size="9.8">5</text><text x="45.30" y="240.44" text-anchor="end" font-size="9.8">2.5</text><text x="45.30" y="273.30" text-anchor="end" font-size="9.8">0</text><text x="45.30" y="306.16" text-anchor="end" font-size="9.8">-2.5</text><text x="45.30" y="339.01" text-anchor="end" font-size="9.8">-5</text><text x="188.50" y="366.30" text-anchor="middle" font-size="10.75">Vorderkammertiefe [mm]</text><text transform="translate(23.60,269.50) rotate(-90)" text-anchor="middle" font-size="10.75">Refraktion [dpt]</text><text x="271.90" y="214.20" font-size="9.8">r = -0.33</text></g>
<g><path d="M469.45 205.65h1.3v1.7h-1.3zM493.15 208.55h1.3v1.7h-1.3zM495.25 210.55h1.3v1.7h-1.3zM471.95 218.35h1.3v1.7h-1.3zM476.45 223.65h1.3v1.7h-1.3zM516.05 226.95h1.3v1.7h-1.3zM520.55 226.95h1.3v1.7h-1.3zM555.35 228.55h1.3v1.7h-1.3zM418.35 233.45h1.3v1.7h-1.3zM576.55 244.95h1.3v1.7h-1.3zM560.25 248.25h1.3v1.7h-1.3zM392.75 268.25h1.3v1.7h-1.3zM395.05 278.25h1.3v1.7h-1.3zM404.35 261.65h1.3v1.7h-1.3zM413.75 264.95h1.3v1.7h-1.3zM413.75 268.25h1.3v1.7h-1.3zM411.35 271.45h1.3v1.7h-1.3zM422.95 269.85h1.3v1.7h-1.3zM425.05 268.25h1.3v1.7h-1.3zM426.05 267.75h1.3v1.7h-1.3zM427.65 263.25h1.3v1.7h-1.3zM427.65 266.65h1.3v1.7h-1.3zM427.65 270.05h1.3v1.7h-1.3zM425.05 281.45h1.3v1.7h-1.3zM426.55 281.45h1.3v1.7h-1.3zM427.65 279.85h1.3v1.7h-1.3zM427.65 281.45h1.3v1.7h-1.3zM434.45 268.25h1.3v1.7h-1.3zM434.45 284.85h1.3v1.7h-1.3zM437.15 261.65h1.3v1.7h-1.3zM439.25 261.65h1.3v1.7h-1.3zM439.25 270.05h1.3v1.7h-1.3zM441.85 270.05h1.3v1.7h-1.3zM443.95 266.65h1.3v1.7h-1.3zM443.95 268.25h1.3v1.7h-1.3zM446.05 268.25h1.3v1.7h-1.3zM446.05 263.25h1.3v1.7h-1.3zM446.05 278.25h1.3v1.7h-1.3zM413.75 290.85h1.3v1.7h-1.3zM427.65 290.85h1.3v1.7h-1.3zM511.45 255.65h1.3v1.7h-1.3zM504.55 258.25h1.3v1.7h-1.3zM514.05 258.25h1.3v1.7h-1.3zM509.35 259.85h1.3v1.7h-1.3zM495.15 261.75h1.3v1.7h-1.3zM497.25 261.75h1.3v1.7h-1.3zM507.25 261.75h1.3v1.7h-1.3zM509.35 261.75h1.3v1.7h-1.3zM514.05 261.75h1.3v1.7h-1.3zM516.65 261.75h1.3v1.7h-1.3zM518.75 261.75h1.3v1.7h-1.3zM497.75 264.55h1.3v1.7h-1.3zM499.85 264.55h1.3v1.7h-1.3zM511.45 264.55h1.3v1.7h-1.3zM514.05 264.55h1.3v1.7h-1.3zM516.65 264.55h1.3v1.7h-1.3zM518.75 264.55h1.3v1.7h-1.3zM499.85 266.95h1.3v1.7h-1.3zM516.65 266.95h1.3v1.7h-1.3zM497.25 268.45h1.3v1.7h-1.3zM499.85 268.45h1.3v1.7h-1.3zM504.55 268.45h1.3v1.7h-1.3zM509.35 268.45h1.3v1.7h-1.3zM511.45 268.45h1.3v1.7h-1.3zM514.05 268.45h1.3v1.7h-1.3zM516.65 268.45h1.3v1.7h-1.3zM516.65 270.15h1.3v1.7h-1.3zM497.25 271.45h1.3v1.7h-1.3zM501.95 271.45h1.3v1.7h-1.3zM514.05 271.45h1.3v1.7h-1.3zM516.15 279.35h1.3v1.7h-1.3zM518.25 278.25h1.3v1.7h-1.3zM502.45 281.45h1.3v1.7h-1.3zM476.75 284.85h1.3v1.7h-1.3zM481.45 284.85h1.3v1.7h-1.3zM504.55 286.65h1.3v1.7h-1.3zM453.05 288.05h1.3v1.7h-1.3zM460.45 288.05h1.3v1.7h-1.3zM493.05 288.05h1.3v1.7h-1.3zM485.65 289.85h1.3v1.7h-1.3zM501.95 289.85h1.3v1.7h-1.3zM471.95 290.85h1.3v1.7h-1.3zM520.75 258.25h1.3v1.7h-1.3zM527.95 258.25h1.3v1.7h-1.3zM548.95 258.25h1.3v1.7h-1.3zM523.15 259.85h1.3v1.7h-1.3zM534.75 259.85h1.3v1.7h-1.3zM520.75 261.75h1.3v1.7h-1.3zM523.15 261.75h1.3v1.7h-1.3zM525.85 261.75h1.3v1.7h-1.3zM530.05 261.75h1.3v1.7h-1.3zM544.25 261.75h1.3v1.7h-1.3zM557.85 261.75h1.3v1.7h-1.3zM560.45 261.75h1.3v1.7h-1.3zM523.15 264.05h1.3v1.7h-1.3zM546.85 263.25h1.3v1.7h-1.3zM557.85 263.25h1.3v1.7h-1.3zM534.75 264.55h1.3v1.7h-1.3zM537.35 264.55h1.3v1.7h-1.3zM542.15 264.55h1.3v1.7h-1.3zM544.25 266.65h1.3v1.7h-1.3zM558.35 266.65h1.3v1.7h-1.3zM520.75 268.25h1.3v1.7h-1.3zM527.95 268.25h1.3v1.7h-1.3zM534.75 268.25h1.3v1.7h-1.3zM537.35 268.25h1.3v1.7h-1.3zM539.45 268.25h1.3v1.7h-1.3zM544.25 268.25h1.3v1.7h-1.3zM574.65 268.25h1.3v1.7h-1.3zM539.45 270.15h1.3v1.7h-1.3zM555.75 270.15h1.3v1.7h-1.3zM583.65 270.15h1.3v1.7h-1.3zM520.75 271.45h1.3v1.7h-1.3zM530.05 271.45h1.3v1.7h-1.3zM537.35 271.45h1.3v1.7h-1.3zM544.25 271.45h1.3v1.7h-1.3zM544.25 274.85h1.3v1.7h-1.3zM518.45 278.25h1.3v1.7h-1.3zM527.95 279.85h1.3v1.7h-1.3zM525.85 281.45h1.3v1.7h-1.3zM534.75 288.05h1.3v1.7h-1.3zM525.85 289.85h1.3v1.7h-1.3zM595.45 259.95h1.3v1.7h-1.3zM595.45 265.15h1.3v1.7h-1.3zM595.45 268.45h1.3v1.7h-1.3zM649.05 259.95h1.3v1.7h-1.3zM397.15 305.95h1.3v1.7h-1.3zM404.05 294.45h1.3v1.7h-1.3zM413.85 291.15h1.3v1.7h-1.3zM415.95 317.35h1.3v1.7h-1.3zM422.85 294.45h1.3v1.7h-1.3zM426.55 291.15h1.3v1.7h-1.3zM429.85 307.55h1.3v1.7h-1.3zM439.25 292.85h1.3v1.7h-1.3zM445.75 294.45h1.3v1.7h-1.3zM445.75 302.65h1.3v1.7h-1.3zM448.65 304.25h1.3v1.7h-1.3zM455.15 302.65h1.3v1.7h-1.3zM464.55 319.35h1.3v1.7h-1.3zM490.35 310.85h1.3v1.7h-1.3zM502.15 294.45h1.3v1.7h-1.3zM502.15 301.05h1.3v1.7h-1.3zM523.05 304.25h1.3v1.7h-1.3zM480.55 255.15h1.3v1.7h-1.3zM483.65 255.15h1.3v1.7h-1.3zM460.15 258.25h1.3v1.7h-1.3zM460.15 259.85h1.3v1.7h-1.3zM474.25 259.85h1.3v1.7h-1.3zM478.95 259.85h1.3v1.7h-1.3zM483.65 259.85h1.3v1.7h-1.3zM490.65 258.25h1.3v1.7h-1.3zM492.65 258.25h1.3v1.7h-1.3zM451.05 261.55h1.3v1.7h-1.3zM453.05 261.55h1.3v1.7h-1.3zM454.35 261.55h1.3v1.7h-1.3zM455.75 261.55h1.3v1.7h-1.3zM458.05 261.55h1.3v1.7h-1.3zM464.85 261.55h1.3v1.7h-1.3zM469.85 261.55h1.3v1.7h-1.3zM476.55 261.55h1.3v1.7h-1.3zM478.95 261.55h1.3v1.7h-1.3zM485.95 261.55h1.3v1.7h-1.3zM487.95 261.55h1.3v1.7h-1.3zM489.35 261.55h1.3v1.7h-1.3zM490.65 261.55h1.3v1.7h-1.3zM449.05 263.25h1.3v1.7h-1.3zM453.05 263.25h1.3v1.7h-1.3zM454.35 263.25h1.3v1.7h-1.3zM455.75 263.25h1.3v1.7h-1.3zM469.85 263.25h1.3v1.7h-1.3zM471.85 263.25h1.3v1.7h-1.3zM471.85 264.95h1.3v1.7h-1.3zM478.95 263.25h1.3v1.7h-1.3zM478.95 264.95h1.3v1.7h-1.3zM483.65 263.55h1.3v1.7h-1.3zM483.65 264.95h1.3v1.7h-1.3zM492.65 263.25h1.3v1.7h-1.3zM460.15 264.95h1.3v1.7h-1.3zM460.15 266.55h1.3v1.7h-1.3zM467.15 264.95h1.3v1.7h-1.3zM476.55 264.95h1.3v1.7h-1.3zM481.25 264.95h1.3v1.7h-1.3zM482.65 264.95h1.3v1.7h-1.3zM451.05 268.25h1.3v1.7h-1.3zM453.05 266.55h1.3v1.7h-1.3zM453.05 268.25h1.3v1.7h-1.3zM454.35 266.55h1.3v1.7h-1.3zM455.75 266.55h1.3v1.7h-1.3zM460.15 268.25h1.3v1.7h-1.3zM460.15 269.95h1.3v1.7h-1.3zM462.75 268.25h1.3v1.7h-1.3zM464.85 268.25h1.3v1.7h-1.3zM467.15 268.25h1.3v1.7h-1.3zM467.15 269.95h1.3v1.7h-1.3zM476.55 268.25h1.3v1.7h-1.3zM478.95 266.55h1.3v1.7h-1.3zM478.95 268.25h1.3v1.7h-1.3zM478.95 269.65h1.3v1.7h-1.3zM478.95 271.25h1.3v1.7h-1.3zM483.65 268.25h1.3v1.7h-1.3zM485.95 266.55h1.3v1.7h-1.3zM488.35 266.55h1.3v1.7h-1.3zM488.35 268.25h1.3v1.7h-1.3zM488.35 269.95h1.3v1.7h-1.3zM474.25 272.95h1.3v1.7h-1.3zM492.65 271.25h1.3v1.7h-1.3zM478.95 276.55h1.3v1.7h-1.3zM483.65 274.65h1.3v1.7h-1.3zM487.95 274.65h1.3v1.7h-1.3zM490.65 274.65h1.3v1.7h-1.3z" fill="#111"/><path d="M381.5 200.0V339.0M661.5 200.0V339.0" stroke="#73808c" stroke-width="1" fill="none"/><path d="M381.0 200.5H662.0M381.0 338.5H662.0" stroke="#73808c" stroke-width="1.1" fill="none"/><path d="M381.5 338.5v-3.2M381.5 200.5v3.2M428.5 338.5v-3.2M428.5 200.5v3.2M474.5 338.5v-3.2M474.5 200.5v3.2M521.5 338.5v-3.2M521.5 200.5v3.2M568.5 338.5v-3.2M568.5 200.5v3.2M614.5 338.5v-3.2M614.5 200.5v3.2M661.5 338.5v-3.2M661.5 200.5v3.2M381.5 203.5h3.2M661.5 203.5h-3.2M381.5 236.5h3.2M661.5 236.5h-3.2M381.5 269.5h3.2M661.5 269.5h-3.2M381.5 302.5h3.2M661.5 302.5h-3.2M381.5 335.5h3.2M661.5 335.5h-3.2" stroke="#73808c" stroke-width="1" fill="none"/><text x="381.50" y="351.40" text-anchor="middle" font-size="9.8">3</text><text x="428.17" y="351.40" text-anchor="middle" font-size="9.8">3.2</text><text x="474.83" y="351.40" text-anchor="middle" font-size="9.8">3.4</text><text x="521.50" y="351.40" text-anchor="middle" font-size="9.8">3.6</text><text x="568.17" y="351.40" text-anchor="middle" font-size="9.8">3.8</text><text x="614.83" y="351.40" text-anchor="middle" font-size="9.8">4</text><text x="661.50" y="351.40" text-anchor="middle" font-size="9.8">4.2</text><text x="378.30" y="207.59" text-anchor="end" font-size="9.8">5</text><text x="378.30" y="240.44" text-anchor="end" font-size="9.8">2.5</text><text x="378.30" y="273.30" text-anchor="end" font-size="9.8">0</text><text x="378.30" y="306.16" text-anchor="end" font-size="9.8">-2.5</text><text x="378.30" y="339.01" text-anchor="end" font-size="9.8">-5</text><text x="521.50" y="366.30" text-anchor="middle" font-size="10.75">Linsendicke [mm]</text><text transform="translate(356.60,269.50) rotate(-90)" text-anchor="middle" font-size="10.75">Refraktion [dpt]</text><text x="602.90" y="214.20" font-size="9.8">r = 0.23</text></g>
<g><path d="M103.65 392.95h1.3v1.7h-1.3zM110.15 389.85h1.3v1.7h-1.3zM134.75 394.75h1.3v1.7h-1.3zM126.55 402.95h1.3v1.7h-1.3zM115.35 412.95h1.3v1.7h-1.3zM130.85 411.15h1.3v1.7h-1.3zM143.55 411.15h1.3v1.7h-1.3zM154.75 408.05h1.3v1.7h-1.3zM211.95 417.85h1.3v1.7h-1.3zM116.95 432.65h1.3v1.7h-1.3zM148.65 429.75h1.3v1.7h-1.3zM142.85 444.15h1.3v1.7h-1.3zM140.25 447.65h1.3v1.7h-1.3zM148.05 449.05h1.3v1.7h-1.3zM155.65 442.75h1.3v1.7h-1.3zM155.15 444.25h1.3v1.7h-1.3zM159.85 445.85h1.3v1.7h-1.3zM161.95 449.05h1.3v1.7h-1.3zM159.85 450.55h1.3v1.7h-1.3zM153.55 452.65h1.3v1.7h-1.3zM196.15 468.45h1.3v1.7h-1.3zM195.55 470.55h1.3v1.7h-1.3zM207.65 468.45h1.3v1.7h-1.3zM215.55 472.15h1.3v1.7h-1.3zM198.75 473.75h1.3v1.7h-1.3zM200.85 473.75h1.3v1.7h-1.3zM218.15 475.25h1.3v1.7h-1.3zM264.05 449.05h1.3v1.7h-1.3zM260.35 452.65h1.3v1.7h-1.3zM258.75 454.25h1.3v1.7h-1.3zM231.45 468.75h1.3v1.7h-1.3zM226.75 472.15h1.3v1.7h-1.3zM256.15 472.15h1.3v1.7h-1.3zM271.95 472.15h1.3v1.7h-1.3zM276.15 473.75h1.3v1.7h-1.3zM223.05 475.25h1.3v1.7h-1.3zM233.05 475.85h1.3v1.7h-1.3zM210.55 478.55h1.3v1.7h-1.3zM214.95 478.55h1.3v1.7h-1.3zM239.75 478.55h1.3v1.7h-1.3zM256.45 479.05h1.3v1.7h-1.3zM193.15 485.25h1.3v1.7h-1.3zM214.25 490.15h1.3v1.7h-1.3zM229.35 488.45h1.3v1.7h-1.3zM232.35 491.65h1.3v1.7h-1.3zM234.85 488.95h1.3v1.7h-1.3zM239.75 486.75h1.3v1.7h-1.3zM260.15 495.15h1.3v1.7h-1.3zM271.35 486.75h1.3v1.7h-1.3zM270.05 501.65h1.3v1.7h-1.3zM276.25 503.35h1.3v1.7h-1.3zM179.75 439.15h1.3v1.7h-1.3zM196.95 439.15h1.3v1.7h-1.3zM168.05 442.55h1.3v1.7h-1.3zM174.75 442.55h1.3v1.7h-1.3zM180.45 442.55h1.3v1.7h-1.3zM185.55 442.55h1.3v1.7h-1.3zM187.85 442.55h1.3v1.7h-1.3zM189.85 444.25h1.3v1.7h-1.3zM197.95 442.55h1.3v1.7h-1.3zM203.95 442.55h1.3v1.7h-1.3zM170.75 444.25h1.3v1.7h-1.3zM172.75 445.85h1.3v1.7h-1.3zM174.45 445.85h1.3v1.7h-1.3zM176.15 445.85h1.3v1.7h-1.3zM181.15 445.85h1.3v1.7h-1.3zM182.85 445.55h1.3v1.7h-1.3zM184.45 445.85h1.3v1.7h-1.3zM186.15 445.85h1.3v1.7h-1.3zM187.85 445.85h1.3v1.7h-1.3zM193.85 445.85h1.3v1.7h-1.3zM195.55 445.85h1.3v1.7h-1.3zM197.25 445.85h1.3v1.7h-1.3zM199.65 444.25h1.3v1.7h-1.3zM201.65 445.85h1.3v1.7h-1.3zM203.35 444.25h1.3v1.7h-1.3zM204.95 445.85h1.3v1.7h-1.3zM206.65 445.85h1.3v1.7h-1.3zM199.95 447.55h1.3v1.7h-1.3zM172.75 447.55h1.3v1.7h-1.3zM174.45 447.55h1.3v1.7h-1.3zM176.15 447.55h1.3v1.7h-1.3zM177.75 447.55h1.3v1.7h-1.3zM180.85 447.55h1.3v1.7h-1.3zM182.85 447.55h1.3v1.7h-1.3zM184.45 447.55h1.3v1.7h-1.3zM186.15 447.55h1.3v1.7h-1.3zM170.75 449.25h1.3v1.7h-1.3zM174.05 449.25h1.3v1.7h-1.3zM176.75 449.25h1.3v1.7h-1.3zM178.75 449.25h1.3v1.7h-1.3zM185.15 449.25h1.3v1.7h-1.3zM187.55 449.25h1.3v1.7h-1.3zM189.85 449.25h1.3v1.7h-1.3zM191.85 449.25h1.3v1.7h-1.3zM203.35 449.25h1.3v1.7h-1.3zM172.45 450.95h1.3v1.7h-1.3zM173.75 450.95h1.3v1.7h-1.3zM182.45 450.95h1.3v1.7h-1.3zM167.35 452.65h1.3v1.7h-1.3zM172.45 452.65h1.3v1.7h-1.3zM173.75 452.65h1.3v1.7h-1.3zM180.85 452.65h1.3v1.7h-1.3zM182.85 452.65h1.3v1.7h-1.3zM185.85 452.65h1.3v1.7h-1.3zM187.55 452.65h1.3v1.7h-1.3zM189.15 452.65h1.3v1.7h-1.3zM191.25 452.65h1.3v1.7h-1.3zM194.95 450.95h1.3v1.7h-1.3zM194.95 452.65h1.3v1.7h-1.3zM194.95 454.25h1.3v1.7h-1.3zM197.25 450.95h1.3v1.7h-1.3zM198.95 452.65h1.3v1.7h-1.3zM200.65 452.65h1.3v1.7h-1.3zM202.65 452.65h1.3v1.7h-1.3zM198.95 454.25h1.3v1.7h-1.3zM204.65 452.65h1.3v1.7h-1.3zM207.35 452.65h1.3v1.7h-1.3zM203.35 455.65h1.3v1.7h-1.3zM181.45 455.65h1.3v1.7h-1.3zM183.45 455.65h1.3v1.7h-1.3zM187.55 455.65h1.3v1.7h-1.3zM196.25 455.65h1.3v1.7h-1.3zM196.55 457.35h1.3v1.7h-1.3zM196.95 458.95h1.3v1.7h-1.3zM201.25 458.95h1.3v1.7h-1.3zM208.05 458.95h1.3v1.7h-1.3zM166.75 460.65h1.3v1.7h-1.3zM200.95 462.35h1.3v1.7h-1.3zM199.65 464.05h1.3v1.7h-1.3zM201.95 464.05h1.3v1.7h-1.3zM197.25 465.75h1.3v1.7h-1.3zM208.35 450.95h1.3v1.7h-1.3zM209.35 449.25h1.3v1.7h-1.3zM210.05 440.85h1.3v1.7h-1.3zM219.05 439.55h1.3v1.7h-1.3zM213.35 443.85h1.3v1.7h-1.3zM215.75 443.85h1.3v1.7h-1.3zM212.05 445.55h1.3v1.7h-1.3zM217.75 445.55h1.3v1.7h-1.3zM219.75 445.55h1.3v1.7h-1.3zM221.75 445.55h1.3v1.7h-1.3zM223.45 445.55h1.3v1.7h-1.3zM225.15 445.55h1.3v1.7h-1.3zM226.85 445.55h1.3v1.7h-1.3zM230.85 445.55h1.3v1.7h-1.3zM212.05 447.25h1.3v1.7h-1.3zM217.45 447.25h1.3v1.7h-1.3zM228.85 447.55h1.3v1.7h-1.3zM213.05 449.25h1.3v1.7h-1.3zM214.75 449.25h1.3v1.7h-1.3zM216.45 449.25h1.3v1.7h-1.3zM217.75 449.25h1.3v1.7h-1.3zM219.45 449.25h1.3v1.7h-1.3zM221.15 449.25h1.3v1.7h-1.3zM233.85 449.25h1.3v1.7h-1.3zM221.15 450.95h1.3v1.7h-1.3zM228.85 450.95h1.3v1.7h-1.3zM212.35 452.65h1.3v1.7h-1.3zM214.75 452.65h1.3v1.7h-1.3zM216.05 452.65h1.3v1.7h-1.3zM217.75 452.65h1.3v1.7h-1.3zM219.45 452.65h1.3v1.7h-1.3zM221.45 452.65h1.3v1.7h-1.3zM224.75 452.65h1.3v1.7h-1.3zM226.85 452.65h1.3v1.7h-1.3zM229.45 452.65h1.3v1.7h-1.3zM232.15 452.65h1.3v1.7h-1.3zM228.15 454.25h1.3v1.7h-1.3zM217.75 454.25h1.3v1.7h-1.3zM237.55 454.25h1.3v1.7h-1.3zM219.05 455.65h1.3v1.7h-1.3zM222.15 455.65h1.3v1.7h-1.3zM225.85 455.65h1.3v1.7h-1.3zM210.55 454.65h1.3v1.7h-1.3zM219.85 459.05h1.3v1.7h-1.3zM228.85 462.35h1.3v1.7h-1.3zM228.85 464.65h1.3v1.7h-1.3zM240.95 462.35h1.3v1.7h-1.3zM248.35 449.25h1.3v1.7h-1.3zM252.35 447.55h1.3v1.7h-1.3zM247.65 454.25h1.3v1.7h-1.3zM249.35 452.65h1.3v1.7h-1.3zM212.35 465.75h1.3v1.7h-1.3zM237.55 465.75h1.3v1.7h-1.3zM253.35 464.05h1.3v1.7h-1.3z" fill="#111"/><line x1="48.5" y1="387.2" x2="328.5" y2="506.8" stroke="#222" stroke-width="1.25"/><path d="M48.5 384.0V523.0M328.5 384.0V523.0" stroke="#73808c" stroke-width="1" fill="none"/><path d="M48.0 384.5H329.0M48.0 522.5H329.0" stroke="#73808c" stroke-width="1.1" fill="none"/><path d="M48.5 522.5v-3.2M48.5 384.5v3.2M83.5 522.5v-3.2M83.5 384.5v3.2M118.5 522.5v-3.2M118.5 384.5v3.2M153.5 522.5v-3.2M153.5 384.5v3.2M188.5 522.5v-3.2M188.5 384.5v3.2M223.5 522.5v-3.2M223.5 384.5v3.2M258.5 522.5v-3.2M258.5 384.5v3.2M293.5 522.5v-3.2M293.5 384.5v3.2M328.5 522.5v-3.2M328.5 384.5v3.2M48.5 387.5h3.2M328.5 387.5h-3.2M48.5 420.5h3.2M328.5 420.5h-3.2M48.5 453.5h3.2M328.5 453.5h-3.2M48.5 486.5h3.2M328.5 486.5h-3.2M48.5 519.5h3.2M328.5 519.5h-3.2" stroke="#73808c" stroke-width="1" fill="none"/><text x="48.50" y="535.50" text-anchor="middle" font-size="9.8">19</text><text x="83.50" y="535.50" text-anchor="middle" font-size="9.8">20</text><text x="118.50" y="535.50" text-anchor="middle" font-size="9.8">21</text><text x="153.50" y="535.50" text-anchor="middle" font-size="9.8">22</text><text x="188.50" y="535.50" text-anchor="middle" font-size="9.8">23</text><text x="223.50" y="535.50" text-anchor="middle" font-size="9.8">24</text><text x="258.50" y="535.50" text-anchor="middle" font-size="9.8">25</text><text x="293.50" y="535.50" text-anchor="middle" font-size="9.8">26</text><text x="328.50" y="535.50" text-anchor="middle" font-size="9.8">27</text><text x="45.30" y="391.59" text-anchor="end" font-size="9.8">5</text><text x="45.30" y="424.44" text-anchor="end" font-size="9.8">2.5</text><text x="45.30" y="457.30" text-anchor="end" font-size="9.8">0</text><text x="45.30" y="490.16" text-anchor="end" font-size="9.8">-2.5</text><text x="45.30" y="523.01" text-anchor="end" font-size="9.8">-5</text><text x="188.50" y="550.30" text-anchor="middle" font-size="10.75">Achslänge [mm]</text><text transform="translate(23.60,453.50) rotate(-90)" text-anchor="middle" font-size="10.75">Refraktion [dpt]</text><text x="238.50" y="398.30" font-size="9.8">y = -1.13 x + 26.54</text><text x="238.50" y="410.40" font-size="9.8">r = -0.70</text></g>
<g><path d="M563.15 393.05h1.3v1.7h-1.3zM574.55 394.35h1.3v1.7h-1.3zM589.75 389.65h1.3v1.7h-1.3zM488.75 410.95h1.3v1.7h-1.3zM517.05 412.95h1.3v1.7h-1.3zM621.25 407.45h1.3v1.7h-1.3zM622.45 410.95h1.3v1.7h-1.3zM559.15 417.85h1.3v1.7h-1.3zM563.15 429.05h1.3v1.7h-1.3zM401.85 444.15h1.3v1.7h-1.3zM427.35 440.95h1.3v1.7h-1.3zM420.85 452.45h1.3v1.7h-1.3zM429.75 452.45h1.3v1.7h-1.3zM435.85 452.45h1.3v1.7h-1.3zM438.65 452.45h1.3v1.7h-1.3zM448.65 452.45h1.3v1.7h-1.3zM451.35 452.45h1.3v1.7h-1.3zM423.25 465.75h1.3v1.7h-1.3zM431.35 468.85h1.3v1.7h-1.3zM439.45 474.15h1.3v1.7h-1.3zM456.75 444.15h1.3v1.7h-1.3zM454.65 449.15h1.3v1.7h-1.3zM456.25 454.15h1.3v1.7h-1.3zM459.95 455.75h1.3v1.7h-1.3zM464.15 448.95h1.3v1.7h-1.3zM465.65 450.65h1.3v1.7h-1.3zM465.65 445.75h1.3v1.7h-1.3zM470.95 445.75h1.3v1.7h-1.3zM473.05 447.55h1.3v1.7h-1.3zM476.75 447.55h1.3v1.7h-1.3zM477.75 449.15h1.3v1.7h-1.3zM479.85 439.35h1.3v1.7h-1.3zM476.75 454.15h1.3v1.7h-1.3zM478.85 453.35h1.3v1.7h-1.3zM479.35 455.45h1.3v1.7h-1.3zM481.95 452.25h1.3v1.7h-1.3zM479.35 459.15h1.3v1.7h-1.3zM484.05 459.15h1.3v1.7h-1.3zM479.35 462.55h1.3v1.7h-1.3zM482.55 445.75h1.3v1.7h-1.3zM485.65 447.55h1.3v1.7h-1.3zM487.75 447.55h1.3v1.7h-1.3zM485.15 450.65h1.3v1.7h-1.3zM485.65 452.45h1.3v1.7h-1.3zM487.75 452.45h1.3v1.7h-1.3zM488.85 452.45h1.3v1.7h-1.3zM490.35 448.95h1.3v1.7h-1.3zM491.95 448.95h1.3v1.7h-1.3zM494.55 448.95h1.3v1.7h-1.3zM496.75 448.95h1.3v1.7h-1.3zM491.95 444.15h1.3v1.7h-1.3zM494.55 442.65h1.3v1.7h-1.3zM495.15 445.75h1.3v1.7h-1.3zM496.75 444.15h1.3v1.7h-1.3zM498.85 445.75h1.3v1.7h-1.3zM493.75 439.35h1.3v1.7h-1.3zM500.95 439.35h1.3v1.7h-1.3zM493.05 454.15h1.3v1.7h-1.3zM496.75 452.45h1.3v1.7h-1.3zM498.85 452.45h1.3v1.7h-1.3zM500.35 454.15h1.3v1.7h-1.3zM502.45 455.75h1.3v1.7h-1.3zM501.95 447.55h1.3v1.7h-1.3zM504.05 447.55h1.3v1.7h-1.3zM503.05 448.95h1.3v1.7h-1.3zM506.65 445.75h1.3v1.7h-1.3zM508.75 448.95h1.3v1.7h-1.3zM507.25 455.75h1.3v1.7h-1.3zM509.85 455.75h1.3v1.7h-1.3zM494.55 460.45h1.3v1.7h-1.3zM490.35 464.05h1.3v1.7h-1.3zM496.75 464.05h1.3v1.7h-1.3zM506.65 465.75h1.3v1.7h-1.3zM508.75 464.05h1.3v1.7h-1.3zM510.35 468.85h1.3v1.7h-1.3zM491.95 472.25h1.3v1.7h-1.3zM513.75 444.15h1.3v1.7h-1.3zM518.25 442.65h1.3v1.7h-1.3zM517.15 452.45h1.3v1.7h-1.3zM518.75 448.95h1.3v1.7h-1.3zM516.15 472.25h1.3v1.7h-1.3zM522.65 442.65h1.3v1.7h-1.3zM532.65 442.65h1.3v1.7h-1.3zM567.85 442.65h1.3v1.7h-1.3zM575.25 442.65h1.3v1.7h-1.3zM579.45 442.65h1.3v1.7h-1.3zM585.75 442.65h1.3v1.7h-1.3zM524.75 445.75h1.3v1.7h-1.3zM527.95 445.75h1.3v1.7h-1.3zM532.65 445.75h1.3v1.7h-1.3zM537.35 445.75h1.3v1.7h-1.3zM548.95 445.75h1.3v1.7h-1.3zM552.05 445.75h1.3v1.7h-1.3zM562.05 445.75h1.3v1.7h-1.3zM574.15 445.75h1.3v1.7h-1.3zM578.35 445.75h1.3v1.7h-1.3zM582.55 445.75h1.3v1.7h-1.3zM522.65 447.55h1.3v1.7h-1.3zM536.35 447.55h1.3v1.7h-1.3zM543.65 447.55h1.3v1.7h-1.3zM553.65 447.55h1.3v1.7h-1.3zM582.55 447.55h1.3v1.7h-1.3zM521.05 448.95h1.3v1.7h-1.3zM524.75 448.95h1.3v1.7h-1.3zM527.35 448.95h1.3v1.7h-1.3zM534.25 448.95h1.3v1.7h-1.3zM544.75 448.95h1.3v1.7h-1.3zM551.05 448.95h1.3v1.7h-1.3zM560.45 448.95h1.3v1.7h-1.3zM573.15 448.95h1.3v1.7h-1.3zM552.65 450.65h1.3v1.7h-1.3zM557.85 450.65h1.3v1.7h-1.3zM559.95 450.65h1.3v1.7h-1.3zM562.05 450.65h1.3v1.7h-1.3zM567.85 450.65h1.3v1.7h-1.3zM569.95 450.65h1.3v1.7h-1.3zM573.65 450.65h1.3v1.7h-1.3zM579.45 450.65h1.3v1.7h-1.3zM522.15 452.45h1.3v1.7h-1.3zM528.45 452.45h1.3v1.7h-1.3zM534.75 452.45h1.3v1.7h-1.3zM541.55 452.45h1.3v1.7h-1.3zM544.25 452.45h1.3v1.7h-1.3zM546.35 452.45h1.3v1.7h-1.3zM553.15 452.45h1.3v1.7h-1.3zM555.25 452.45h1.3v1.7h-1.3zM557.85 452.45h1.3v1.7h-1.3zM559.95 452.45h1.3v1.7h-1.3zM561.55 452.45h1.3v1.7h-1.3zM564.15 452.45h1.3v1.7h-1.3zM571.05 452.45h1.3v1.7h-1.3zM575.25 452.45h1.3v1.7h-1.3zM579.45 452.45h1.3v1.7h-1.3zM584.65 452.45h1.3v1.7h-1.3zM528.45 454.15h1.3v1.7h-1.3zM537.85 454.15h1.3v1.7h-1.3zM547.85 454.15h1.3v1.7h-1.3zM555.25 454.15h1.3v1.7h-1.3zM558.35 454.15h1.3v1.7h-1.3zM561.55 454.15h1.3v1.7h-1.3zM566.25 454.15h1.3v1.7h-1.3zM531.55 455.75h1.3v1.7h-1.3zM547.85 455.75h1.3v1.7h-1.3zM565.75 455.75h1.3v1.7h-1.3zM571.05 455.75h1.3v1.7h-1.3zM574.15 455.75h1.3v1.7h-1.3zM576.75 457.55h1.3v1.7h-1.3zM532.15 459.15h1.3v1.7h-1.3zM554.75 459.15h1.3v1.7h-1.3zM564.75 459.15h1.3v1.7h-1.3zM565.75 462.55h1.3v1.7h-1.3zM522.65 465.75h1.3v1.7h-1.3zM545.75 468.85h1.3v1.7h-1.3zM526.85 472.25h1.3v1.7h-1.3zM520.55 474.35h1.3v1.7h-1.3zM599.85 439.35h1.3v1.7h-1.3zM598.25 442.65h1.3v1.7h-1.3zM589.65 445.75h1.3v1.7h-1.3zM591.25 447.45h1.3v1.7h-1.3zM604.05 447.45h1.3v1.7h-1.3zM610.95 445.75h1.3v1.7h-1.3zM615.95 445.75h1.3v1.7h-1.3zM619.65 445.75h1.3v1.7h-1.3zM611.85 449.15h1.3v1.7h-1.3zM622.05 449.15h1.3v1.7h-1.3zM623.45 449.15h1.3v1.7h-1.3zM587.65 451.35h1.3v1.7h-1.3zM591.05 452.45h1.3v1.7h-1.3zM597.65 450.75h1.3v1.7h-1.3zM598.75 452.45h1.3v1.7h-1.3zM602.15 452.45h1.3v1.7h-1.3zM605.45 452.45h1.3v1.7h-1.3zM613.45 452.45h1.3v1.7h-1.3zM625.65 452.45h1.3v1.7h-1.3zM634.45 455.75h1.3v1.7h-1.3zM642.25 445.75h1.3v1.7h-1.3zM621.75 470.55h1.3v1.7h-1.3zM621.75 474.05h1.3v1.7h-1.3zM424.55 494.85h1.3v1.7h-1.3zM453.95 488.65h1.3v1.7h-1.3zM466.25 478.85h1.3v1.7h-1.3zM474.35 487.05h1.3v1.7h-1.3zM495.25 503.35h1.3v1.7h-1.3zM498.05 475.55h1.3v1.7h-1.3zM500.55 477.65h1.3v1.7h-1.3zM504.25 478.85h1.3v1.7h-1.3zM498.95 478.85h1.3v1.7h-1.3zM500.15 490.35h1.3v1.7h-1.3zM507.05 488.65h1.3v1.7h-1.3zM505.05 470.25h1.3v1.7h-1.3zM533.65 475.15h1.3v1.7h-1.3zM540.65 475.15h1.3v1.7h-1.3zM545.55 487.05h1.3v1.7h-1.3zM547.95 501.75h1.3v1.7h-1.3zM585.55 475.15h1.3v1.7h-1.3zM586.85 485.05h1.3v1.7h-1.3zM587.65 491.95h1.3v1.7h-1.3z" fill="#111"/><path d="M381.5 384.0V523.0M661.5 384.0V523.0" stroke="#73808c" stroke-width="1" fill="none"/><path d="M381.0 384.5H662.0M381.0 522.5H662.0" stroke="#73808c" stroke-width="1.1" fill="none"/><path d="M381.5 522.5v-3.2M381.5 384.5v3.2M421.5 522.5v-3.2M421.5 384.5v3.2M461.5 522.5v-3.2M461.5 384.5v3.2M501.5 522.5v-3.2M501.5 384.5v3.2M541.5 522.5v-3.2M541.5 384.5v3.2M581.5 522.5v-3.2M581.5 384.5v3.2M621.5 522.5v-3.2M621.5 384.5v3.2M661.5 522.5v-3.2M661.5 384.5v3.2M381.5 387.5h3.2M661.5 387.5h-3.2M381.5 420.5h3.2M661.5 420.5h-3.2M381.5 453.5h3.2M661.5 453.5h-3.2M381.5 486.5h3.2M661.5 486.5h-3.2M381.5 519.5h3.2M661.5 519.5h-3.2" stroke="#73808c" stroke-width="1" fill="none"/><text x="381.50" y="535.50" text-anchor="middle" font-size="9.8">150</text><text x="421.50" y="535.50" text-anchor="middle" font-size="9.8">200</text><text x="461.50" y="535.50" text-anchor="middle" font-size="9.8">250</text><text x="501.50" y="535.50" text-anchor="middle" font-size="9.8">300</text><text x="541.50" y="535.50" text-anchor="middle" font-size="9.8">350</text><text x="581.50" y="535.50" text-anchor="middle" font-size="9.8">400</text><text x="621.50" y="535.50" text-anchor="middle" font-size="9.8">450</text><text x="661.50" y="535.50" text-anchor="middle" font-size="9.8">500</text><text x="378.30" y="391.59" text-anchor="end" font-size="9.8">5</text><text x="378.30" y="424.44" text-anchor="end" font-size="9.8">2.5</text><text x="378.30" y="457.30" text-anchor="end" font-size="9.8">0</text><text x="378.30" y="490.16" text-anchor="end" font-size="9.8">-2.5</text><text x="378.30" y="523.01" text-anchor="end" font-size="9.8">-5</text><text x="521.50" y="550.30" text-anchor="middle" font-size="10.75">Aderhautdicke [<tspan font-style="italic" font-family="Liberation Serif" stroke-width="0.1">µ</tspan>m]</text><text transform="translate(356.60,453.50) rotate(-90)" text-anchor="middle" font-size="10.75">Refraktion [dpt]</text><text x="602.90" y="398.20" font-size="9.8">r = 0.18</text></g>
</svg>
</body></html>
